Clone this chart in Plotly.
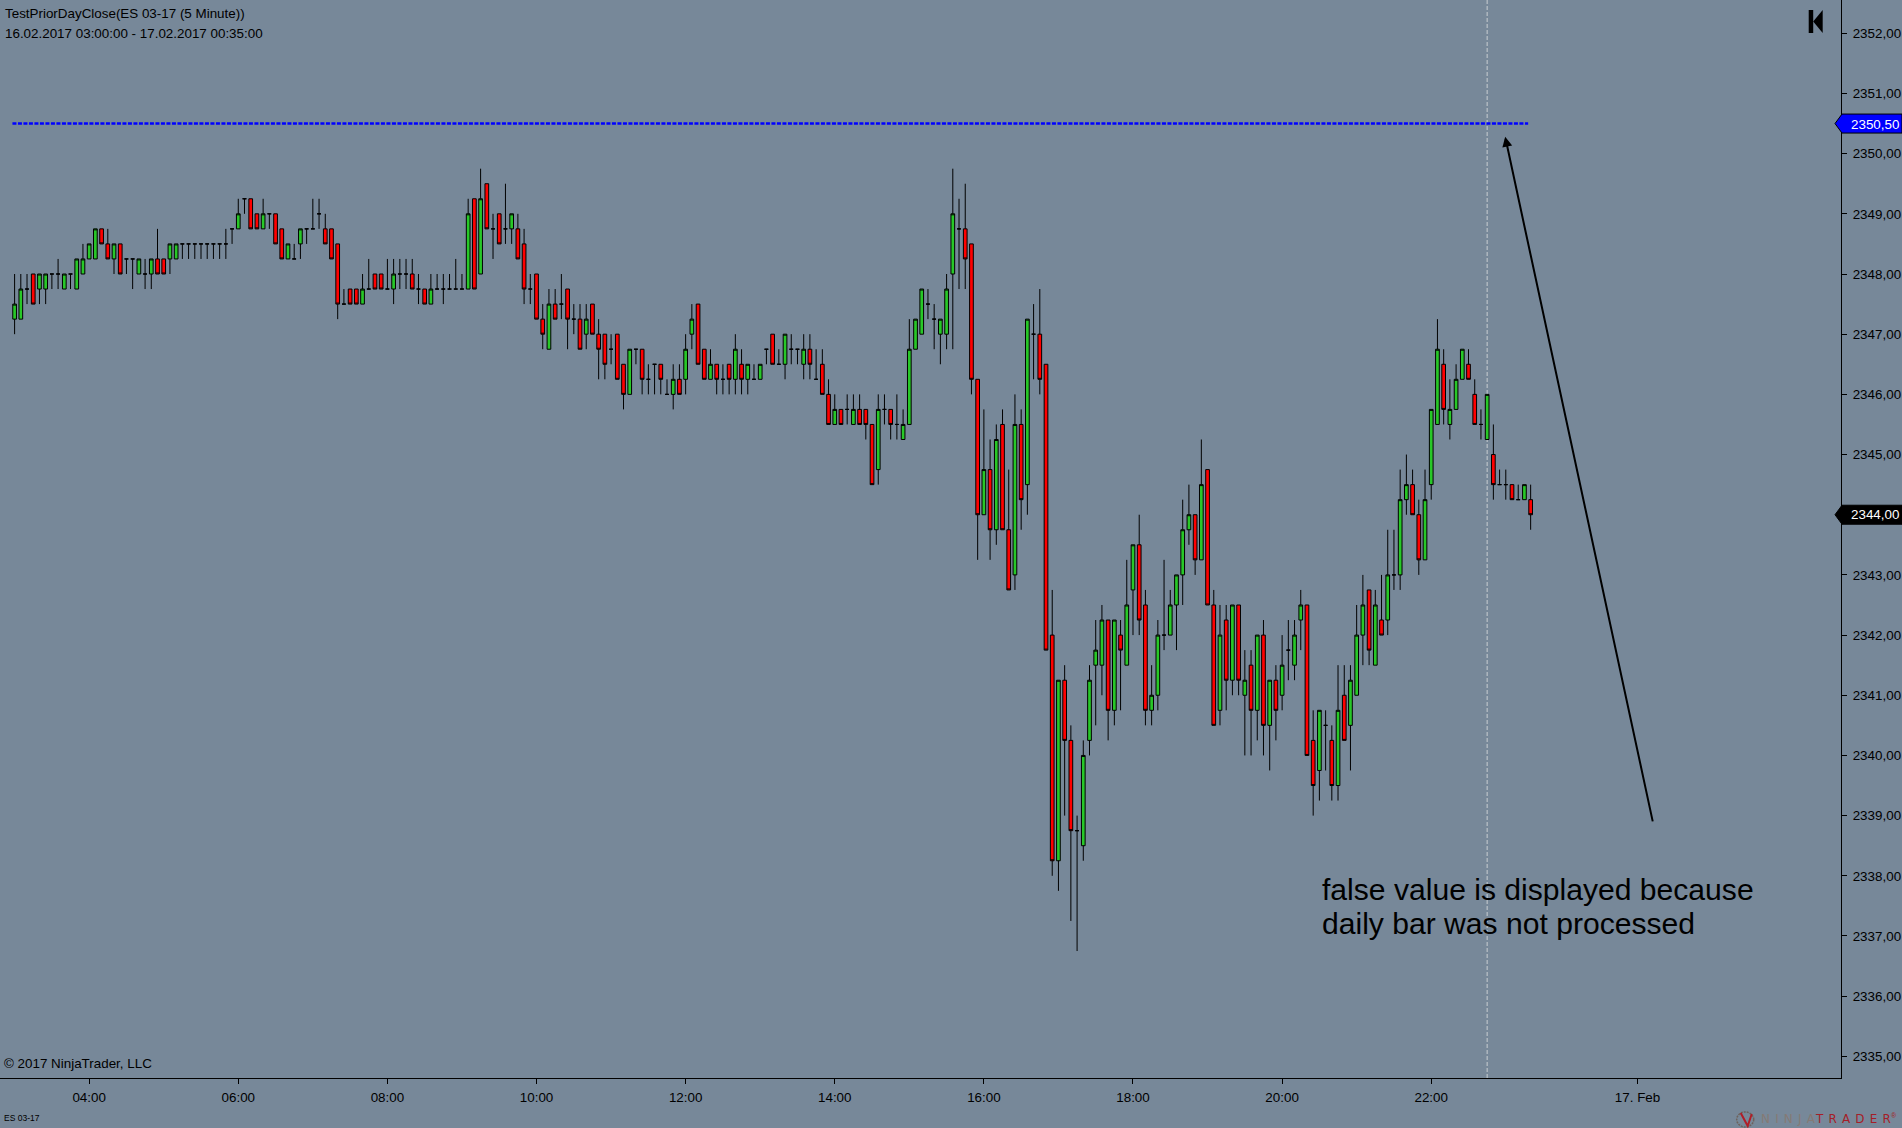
import plotly.graph_objects as go

opens = [
2347.25,2347.25,2347.75,2348,2347.75,2347.75,2348,2348,2347.75,2348,
2347.75,2348,2348.25,2348.25,2348.75,2348.5,2348.25,2348.5,2348.25,2348.25,
2348,2348,2348,2348.25,2348.25,2348.25,2348.25,2348.5,2348.5,2348.5,
2348.5,2348.5,2348.5,2348.5,2348.5,2348.75,2348.75,2349.25,2349.25,2349,
2348.75,2349,2349,2348.75,2348.25,2348.25,2348.5,2348.75,2348.75,2349,
2348.75,2348.75,2348.5,2347.5,2347.75,2347.75,2347.5,2347.75,2348,2348,
2347.75,2347.75,2348,2348,2348,2347.75,2347.75,2347.5,2347.75,2347.75,
2347.75,2347.75,2347.75,2347.75,2349.25,2348,2349.5,2348.75,2349,2348.75,
2348.75,2348.75,2348.5,2347.75,2348,2347.25,2346.75,2347.5,2347.5,2347.75,
2347.25,2347.25,2347,2347.5,2347,2347,2346.75,2347,2346.5,2346,
2346.75,2346.75,2346.25,2346.5,2346.5,2346,2346,2346.25,2346.25,2347,
2347.5,2346.75,2346.25,2346.5,2346.25,2346.5,2346.25,2346.5,2346.25,2346.25,
2346.25,2346.75,2347,2346.5,2346.5,2346.75,2346.75,2346.5,2346.75,2346.25,
2346.5,2346,2345.5,2345.75,2345.75,2345.5,2345.75,2345.75,2345.5,2344.75,
2345.75,2345.75,2345.5,2345.25,2345.5,2346.75,2347,2347.5,2347.25,2347,
2347,2348,2348.75,2348.75,2348.5,2346.25,2344,2344.75,2343.75,2345.5,
2343.75,2343,2345.5,2344.5,2347,2347,2346.5,2342,2338.25,2341.25,
2340.25,2338.75,2338.5,2340.25,2341.5,2341.5,2342.25,2340.75,2342,2341.5,
2342.75,2343.5,2342.5,2340.75,2341,2342,2342,2342.5,2343,2343.75,
2344,2343.25,2344.75,2342.5,2340.75,2342.25,2341.25,2342.5,2341,2341.5,
2340.75,2342,2340.5,2341.25,2341,2341.75,2341.5,2342.25,2342.5,2340.25,
2339.75,2340.5,2340.25,2339.5,2341,2340.5,2341,2342,2342.75,2341.5,
2342.25,2342.25,2343,2343,2344.25,2344.5,2344,2343.25,2344.5,2345.5,
2346.5,2345.5,2345.75,2346.25,2346.5,2346,2345.5,2345.25,2345,2344.5,
2344.5,2344.5,2344.25,2344.25,2344.25]
highs = [
2348,2348,2348,2348,2348,2348,2348,2348.25,2348,2348,
2348.25,2348.5,2348.5,2348.75,2348.75,2348.75,2348.5,2348.5,2348.25,2348.25,
2348.25,2348.25,2348.25,2348.75,2348.25,2348.5,2348.5,2348.5,2348.5,2348.5,
2348.5,2348.5,2348.5,2348.5,2348.75,2348.75,2349.25,2349.25,2349.25,2349,
2349.25,2349,2349,2348.75,2348.5,2348.5,2348.75,2348.75,2349.25,2349.25,
2349,2348.75,2348.5,2347.75,2347.75,2347.75,2348,2348.25,2348,2348,
2348.25,2348.25,2348.25,2348.25,2348.25,2348,2347.75,2348,2348,2348,
2348,2348.25,2348,2349.25,2349.25,2349.75,2349.5,2349,2349,2349.5,
2349,2349,2348.75,2348,2348,2347.5,2347.75,2347.75,2348,2347.75,
2347.5,2347.5,2347.5,2347.5,2347.25,2347,2347,2347,2346.5,2346.75,
2346.75,2346.75,2346.5,2346.5,2346.5,2346.25,2346.5,2346.5,2347,2347.5,
2347.5,2346.75,2346.75,2346.5,2346.5,2346.5,2347,2346.75,2346.5,2346.5,
2346.5,2346.75,2347,2346.75,2347,2347,2346.75,2347,2347,2346.75,
2346.75,2346.25,2346,2345.75,2346,2346,2346,2345.75,2345.5,2346,
2346,2345.75,2346,2345.75,2347.25,2347.25,2347.75,2347.75,2347.5,2347.25,
2348,2349.75,2349.25,2349.5,2348.5,2346.25,2345.75,2345.25,2345.5,2345.75,
2344.75,2346,2345.75,2347.25,2347.5,2347.75,2346.5,2342.75,2341.25,2341.5,
2340.5,2339,2340.25,2341.5,2342.25,2342.5,2342.25,2342.25,2342.25,2343.25,
2343.5,2344,2342.75,2341.5,2342.25,2343.25,2342.75,2343,2344.25,2344.5,
2344,2345.25,2344.75,2342.75,2342.5,2342.5,2342.5,2342.5,2341.75,2341.75,
2342,2342.25,2341.25,2341.5,2342,2342.25,2342.25,2342.75,2342.5,2340.75,
2340.75,2340.75,2340.5,2341.5,2341.5,2341.5,2342.5,2343,2342.75,2342.75,
2343,2343.75,2343.75,2344.75,2345,2344.75,2344.25,2344.75,2345.75,2347.25,
2346.75,2346.25,2346.5,2346.75,2346.75,2346.25,2345.75,2346,2345.5,2344.75,
2344.75,2344.5,2344.5,2344.5,2344.5]
lows = [
2347,2347.25,2347.5,2347.5,2347.5,2347.5,2347.75,2347.75,2347.75,2347.75,
2347.75,2348,2348.25,2348.25,2348.5,2348.25,2348,2348,2348,2347.75,
2348,2347.75,2347.75,2348,2348,2348,2348.25,2348.25,2348.25,2348.25,
2348.25,2348.25,2348.25,2348.25,2348.25,2348.5,2348.75,2349,2348.75,2348.75,
2348.75,2348.75,2348.5,2348.25,2348.25,2348.25,2348.25,2348.5,2348.75,2348.75,
2348.5,2348.25,2347.25,2347.5,2347.5,2347.5,2347.5,2347.75,2347.75,2347.75,
2347.75,2347.5,2347.75,2347.75,2347.75,2347.5,2347.5,2347.5,2347.75,2347.5,
2347.75,2347.75,2347.75,2347.75,2347.75,2348,2348.75,2348.25,2348.5,2348.5,
2348.5,2348.25,2347.5,2347.5,2347.25,2346.75,2346.75,2347.25,2347.25,2346.75,
2347,2346.75,2346.75,2347,2346.25,2346.25,2346.5,2346.25,2345.75,2346,
2346.5,2346,2346,2346,2346,2346,2345.75,2346,2346,2346.75,
2346.5,2346.25,2346.25,2346,2346,2346,2346,2346,2346,2346.25,
2346.25,2346.5,2346.5,2346.5,2346.25,2346.5,2346.5,2346.25,2346.25,2346.25,
2346,2345.5,2345.5,2345.5,2345.5,2345.5,2345.5,2345.25,2344.5,2344.5,
2345.5,2345.25,2345.25,2345.25,2345.5,2346.75,2347,2347.25,2346.75,2346.5,
2346.75,2346.75,2347.75,2347.75,2346,2343.25,2344,2343.25,2343.5,2343.75,
2342.75,2342.75,2343.75,2344,2346.25,2346,2341.75,2338,2337.75,2339,
2337.25,2336.75,2338.25,2340,2340.5,2341,2340.25,2340.5,2340.75,2341.5,
2342,2342,2340.5,2340.5,2340.75,2341.75,2342,2341.75,2342.5,2343.5,
2343,2343.25,2342.5,2340.5,2340.5,2340.75,2341,2341,2340,2340,
2340.25,2340,2339.75,2340.25,2340.75,2341.25,2341.25,2341.75,2340,2339,
2339.25,2339.75,2339.25,2339.25,2340.25,2339.75,2341,2341.5,2341.5,2341.5,
2342,2342,2342.75,2342.75,2344,2344,2343,2343.25,2344.25,2345.5,
2345.5,2345.25,2345.75,2346.25,2346.25,2345.5,2345.25,2345.25,2344.25,2344.5,
2344.25,2344.25,2344.25,2344.25,2343.75]
closes = [
2347.5,2347.75,2347.75,2347.5,2348,2348,2348,2348,2348,2348,
2348.25,2348.25,2348.5,2348.75,2348.5,2348.25,2348.5,2348,2348.25,2348.25,
2348.25,2348,2348.25,2348,2348,2348.5,2348.5,2348.5,2348.5,2348.5,
2348.5,2348.5,2348.5,2348.5,2348.5,2348.75,2349,2349.25,2348.75,2348.75,
2349,2349,2348.5,2348.25,2348.5,2348.25,2348.75,2348.75,2348.75,2349,
2348.5,2348.25,2347.5,2347.5,2347.5,2347.5,2347.75,2347.75,2347.75,2347.75,
2347.75,2348,2348,2348,2347.75,2347.75,2347.5,2347.75,2347.75,2347.75,
2347.75,2347.75,2347.75,2349,2347.75,2349.25,2348.75,2348.75,2348.5,2348.75,
2349,2348.25,2347.75,2347.75,2347.25,2347,2347.5,2347.25,2347.5,2347.25,
2347.25,2346.75,2347.25,2347,2346.75,2346.5,2346.75,2346.25,2346,2346.75,
2346.75,2346.25,2346.25,2346.5,2346.25,2346,2346.25,2346,2346.75,2347.25,
2346.5,2346.25,2346.5,2346.25,2346.25,2346.25,2346.75,2346.25,2346.5,2346.25,
2346.5,2346.75,2346.5,2346.5,2347,2346.75,2346.75,2346.75,2346.5,2346.25,
2346,2345.5,2345.75,2345.5,2345.75,2345.75,2345.5,2345.5,2344.5,2345.75,
2345.75,2345.5,2345.5,2345.5,2346.75,2347.25,2347.75,2347.5,2347.25,2347.25,
2347.75,2349,2348.75,2348.25,2346.25,2344,2344.75,2343.75,2345.25,2343.75,
2342.75,2345.5,2344.25,2347.25,2347,2346.25,2341.75,2338.25,2341.25,2340.25,
2338.75,2338.75,2340,2341.25,2341.75,2342.25,2340.75,2342.25,2341.75,2342.5,
2343.5,2342.25,2340.75,2341,2342,2342,2342.5,2343,2343.75,2344,
2343.25,2344.5,2342.5,2340.5,2342,2341.25,2342.5,2341.25,2341.25,2340.75,
2342,2340.5,2341.25,2340.75,2341.5,2341.75,2342,2342.5,2340,2339.5,
2340.75,2340.5,2339.5,2340.75,2340.25,2341.25,2342,2342.5,2341.75,2342.5,
2342,2343,2343,2344.25,2344.5,2344,2343.25,2344.25,2345.75,2346.75,
2345.75,2345.75,2346.25,2346.75,2346.25,2345.5,2345.5,2346,2344.5,2344.5,
2344.5,2344.25,2344.25,2344.5,2344]

bar_index = list(range(len(closes)))

x_tick_pos = [12, 36, 60, 84, 108, 132, 156, 180, 204, 228, 261.2]
x_tick_text = ["04:00", "06:00", "08:00", "10:00", "12:00", "14:00", "16:00",
               "18:00", "20:00", "22:00", "17. Feb"]
prior_close = 2350.5
last_price = closes[-1]
line_span = [-0.35, 243.6]
cursor_bar = 237

W, H = 1902, 1128
RIGHT, BOTTOM = 1841.3, 1078.0
FONT = "Liberation Sans"
px = lambda v: v / RIGHT
py = lambda v: 1 - v / BOTTOM
GAP = "\u2004\u200a"

fig = go.Figure()
fig.add_trace(go.Candlestick(
    x=bar_index, open=opens, high=highs, low=lows, close=closes,
    increasing=dict(fillcolor="#28C828", line=dict(color="#000000", width=1)),
    decreasing=dict(fillcolor="#FF0000", line=dict(color="#000000", width=1)),
    whiskerwidth=0, hoverinfo="skip", showlegend=False))
fig.add_trace(go.Scatter(
    x=line_span, y=[prior_close, prior_close], mode="lines",
    line=dict(color="#0000FF", width=2.4, dash="4px,1.5px"),
    hoverinfo="skip", showlegend=False))


def flag(price, fill):
    return dict(type="path", xref="paper", yref="y", xsizemode="pixel", ysizemode="pixel",
                xanchor=1, yanchor=price, layer="above",
                path="M -6 0 L 1 -9.5 L 61 -9.5 L 61 9.5 L 1 9.5 Z",
                fillcolor=fill, line=dict(color="#000000", width=1))


def label(x, y, text, size=13.4, color="#000000", anchor="left", family=FONT):
    return dict(xref="paper", yref="paper", x=px(x), y=py(y), text=text, showarrow=False,
                xanchor=anchor, yanchor="middle", align="left",
                font=dict(family=family, size=size, color=color))


shapes = [
    dict(type="line", xref="x", yref="paper", x0=cursor_bar, x1=cursor_bar, y0=0, y1=1,
         layer="below", line=dict(color="#C9CED3", width=1, dash="4px,2px")),
    flag(prior_close, "#0000FF"),
    flag(last_price, "#000000"),
    dict(type="rect", xref="paper", yref="paper", x0=px(1809), x1=px(1813.5), y0=py(33), y1=py(10),
         fillcolor="#000000", line=dict(width=0)),
    dict(type="path", xref="paper", yref="paper",
         path=f"M {px(1813.5)} {py(21.5)} L {px(1823)} {py(10)} L {px(1823)} {py(33)} Z",
         fillcolor="#000000", line=dict(width=0)),
    dict(type="circle", xref="paper", yref="paper", x0=px(1737), x1=px(1754), y0=py(1127), y1=py(1112),
         fillcolor="rgba(0,0,0,0)", line=dict(color="#6E625C", width=1.5, dash="2px,1px")),
    dict(type="path", xref="paper", yref="paper",
         path=f"M {px(1741)} {py(1113)} L {px(1748)} {py(1126)} L {px(1752)} {py(1114)}",
         fillcolor="rgba(0,0,0,0)", line=dict(color="#B01E28", width=2)),
]

annotations = [
    label(3.5, 13, "TestPriorDayClose(ES 03-17 (5 Minute))"),
    label(3.5, 33, "16.02.2017 03:00:00 - 17.02.2017 00:35:00"),
    label(2.5, 1063.5, "© 2017 NinjaTrader, LLC"),
    label(2, 1118, "ES 03-17", 8.5),
    label(1320, 889, "false value is displayed because", 30.1),
    label(1320, 923, "daily bar was not processed", 30.1),
    label(1849, 124, f"{prior_close:.2f}".replace(".", ","), 13.4, "#FFFFFF"),
    label(1849, 514.5, f"{last_price:.2f}".replace(".", ","), 13.4, "#FFFFFF"),
    label(1759, 1119, GAP.join("NINJA"), 12, "#857A75", family="DejaVu Sans"),
    label(1813, 1119, GAP.join("TRADER"), 12, "#A51E28", family="DejaVu Sans"),
    label(1889, 1115, "®", 7, "#A51E28"),
    dict(xref="x", yref="y", axref="x", ayref="y", x=239.9, y=2350.28, ax=263.7, ay=2338.88,
         text="", showarrow=True, arrowhead=2, arrowsize=1, arrowwidth=2, arrowcolor="#000000"),
]

fig.update_layout(
    width=W, height=H, autosize=False,
    margin=dict(l=0, r=W - RIGHT, t=0, b=H - BOTTOM, pad=0),
    paper_bgcolor="#778899", plot_bgcolor="#778899",
    separators=", ", boxgap=0.15, showlegend=False, dragmode=False,
    font=dict(family=FONT, size=13, color="#000000"),
    shapes=shapes, annotations=annotations,
    xaxis=dict(range=[-2.35, 293.95], rangeslider=dict(visible=False),
               tickmode="array", tickvals=x_tick_pos, ticktext=x_tick_text,
               showgrid=False, zeroline=False, showline=True, linecolor="#000000", linewidth=1,
               ticks="outside", ticklen=5, tickcolor="#000000", tickwidth=1,
               ticklabelstandoff=2, tickangle=0,
               tickfont=dict(family=FONT, size=13.4, color="#000000")),
    yaxis=dict(range=[2334.64, 2352.553], side="right", tick0=2335, dtick=1,
               tickformat=".2f", showgrid=False, zeroline=False, showline=True,
               linecolor="#000000", linewidth=1,
               ticks="outside", ticklen=5, tickcolor="#000000", tickwidth=1,
               ticklabelstandoff=3,
               tickfont=dict(family=FONT, size=13.4, color="#000000")),
)

fig.write_html("out.html", config=dict(displayModeBar=False),
               post_script="document.body.style.margin='0';document.body.style.overflow='hidden';")
